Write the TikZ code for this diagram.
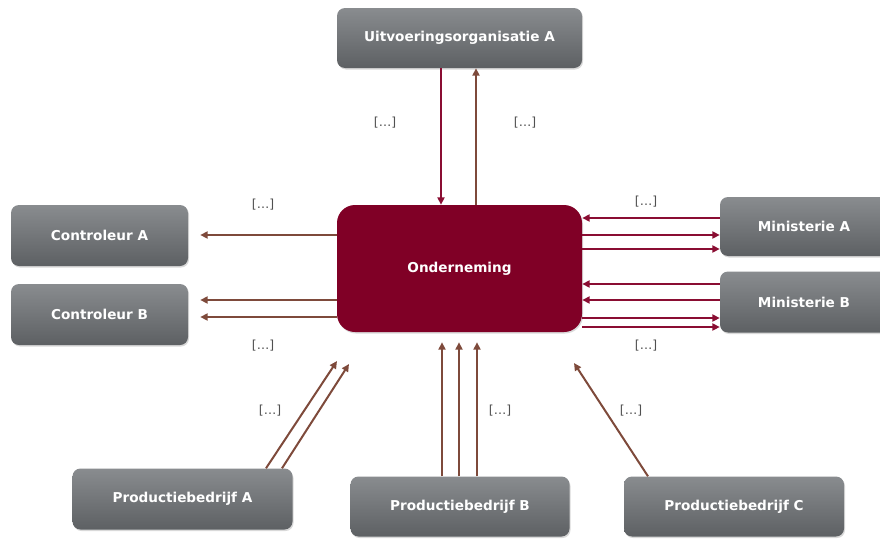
\documentclass[tikz,border=0pt]{standalone}
\usepackage{fontspec}
\setmainfont{Fira Sans}
\newfontfamily\boxfamily{DejaVu Sans}
\usetikzlibrary{arrows.meta,shadows,calc}
\definecolor{boxtop}{HTML}{898C8F}
\definecolor{boxbot}{HTML}{5D6063}
\definecolor{crim}{HTML}{800026}
\definecolor{crimline}{HTML}{8A0D32}
\definecolor{brownline}{HTML}{7E4A3B}
\definecolor{lblgray}{HTML}{505050}
\begin{document}
\begin{tikzpicture}[x=1pt,y=-1pt,
  box/.style={rounded corners=8pt, top color=boxtop, bottom color=boxbot, draw=none,
    text=white, font=\boxfamily\fontsize{13.6}{16}\selectfont\bfseries, inner sep=0pt,
    drop shadow={shadow xshift=1pt, shadow yshift=-1.5pt, opacity=0.3}},
  mainbox/.style={rounded corners=18pt, fill=crim, draw=none, text=white,
    font=\boxfamily\fontsize{13.6}{16}\selectfont\bfseries, inner sep=0pt,
    drop shadow={shadow xshift=1pt, shadow yshift=-1.5pt, opacity=0.3}},
  crimarr/.style={draw=crimline, line width=2pt, -{Triangle[length=7.5pt,width=7pt]}},
  brarr/.style={draw=brownline, line width=2pt, -{Triangle[length=7.5pt,width=7pt]}},
  lbl/.style={text=lblgray, font=\boxfamily\fontsize{12.5}{14}\selectfont, inner sep=1pt}
]
\useasboundingbox (0,0) rectangle (880,538);

\node[box, minimum width=245pt, minimum height=60pt] (uit) at (459.5,38) {Uitvoeringsorganisatie A};
\node[mainbox, minimum width=245pt, minimum height=127pt] (ond) at (459.5,268.5) {Onderneming};
\node[box, minimum width=177pt, minimum height=61pt] (ca) at (99.5,235.5) {Controleur A};
\node[box, minimum width=177pt, minimum height=61pt] (cb) at (99.5,314.5) {Controleur B};
\node[box, minimum width=168pt, minimum height=59pt] (ma) at (804,226.5) {Ministerie A};
\node[box, minimum width=168pt, minimum height=61pt] (mb) at (804,302) {Ministerie B};
\node[box, minimum width=220pt, minimum height=61pt] (pa) at (182.5,499) {Productiebedrijf A};
\node[box, minimum width=219pt, minimum height=60pt] (pb) at (460,506.5) {Productiebedrijf B};
\node[box, minimum width=220pt, minimum height=60pt] (pc) at (734,506.5) {Productiebedrijf C};

% Uitvoeringsorganisatie
\draw[crimarr] ($(uit.south)+(-18.5,0)$) -- ($(ond.north)+(-18.5,0)$);
\draw[brarr] ($(ond.north)+(16.5,0)$) -- ($(uit.south)+(16.5,0)$);

% Controleurs
\draw[brarr] ($(ond.west)+(0,-33.5)$) -- ($(ca.east)+(12,-0.5)$);
\draw[brarr] ($(ond.west)+(0,31.5)$) -- ($(cb.east)+(12,-14.5)$);
\draw[brarr] ($(ond.west)+(0,48.5)$) -- ($(cb.east)+(12,2.5)$);

% Ministerie A
\draw[crimarr] ($(ma.west)+(0,-8.5)$) -- ($(ond.east)+(0,-50.5)$);
\draw[crimarr] ($(ond.east)+(0,-33.5)$) -- ($(ma.west)+(0,8.5)$);
\draw[crimarr] ($(ond.east)+(0,-19.5)$) -- ($(ma.west)+(0,22.5)$);

% Ministerie B
\draw[crimarr] ($(mb.west)+(0,-18)$) -- ($(ond.east)+(0,15.5)$);
\draw[crimarr] ($(mb.west)+(0,-2)$) -- ($(ond.east)+(0,31.5)$);
\draw[crimarr] ($(ond.east)+(0,49.5)$) -- ($(mb.west)+(0,16)$);
\draw[crimarr] ($(ond.east)+(0,58.5)$) -- ($(mb.west)+(0,25)$);

% Productiebedrijf A
\coordinate (pa1) at (337,361);
\coordinate (pa2) at (349,364);
\draw[brarr] ($(pa.north)+(83.5,0)$) -- (pa1);
\draw[brarr] ($(pa.north)+(99.5,0)$) -- (pa2);

% Productiebedrijf B
\draw[brarr] ($(pb.north)+(-18,0)$) -- ($(ond.south)+(-17.5,10)$);
\draw[brarr] ($(pb.north)+(-1,0)$) -- ($(ond.south)+(-0.5,10)$);
\draw[brarr] ($(pb.north)+(17,0)$) -- ($(ond.south)+(17.5,10)$);

% Productiebedrijf C
\coordinate (pc1) at (574,363);
\draw[brarr] ($(pc.north)+(-86,0)$) -- (pc1);

% labels
\node[lbl] (l1) at (385,123) {[…]};
\node[lbl] (l2) at (525,123) {[…]};
\node[lbl] (l3) at (263,205) {[…]};
\node[lbl] (l4) at (263,346) {[…]};
\node[lbl] (l5) at (646,202) {[…]};
\node[lbl] (l6) at (646,346) {[…]};
\node[lbl] (l7) at (270,411) {[…]};
\node[lbl] (l8) at (500,411) {[…]};
\node[lbl] (l9) at (631,411) {[…]};
\end{tikzpicture}
\end{document}
